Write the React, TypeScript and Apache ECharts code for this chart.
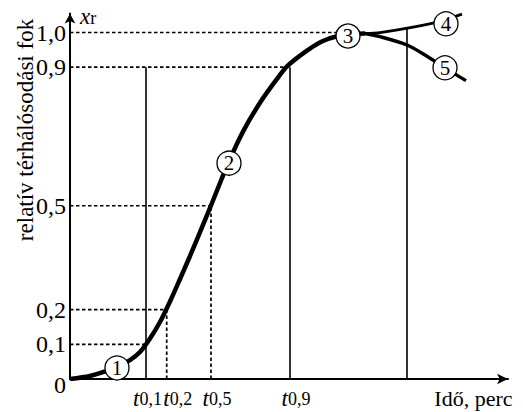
import React, { useEffect, useRef } from "react";
import * as echarts from "echarts";

// ---- data ----
const mainCurve: [number, number][] = [
  [0, 0], [2.0, 0.0087], [3.5, 0.0216], [4.7, 0.0346], [6.0, 0.0548], [7.0, 0.0779],
  [8.0, 0.1169], [9.0, 0.1645], [10.0, 0.2237], [11.0, 0.2886], [12.0, 0.355],
  [13.0, 0.4242], [14.2, 0.5079], [15.1, 0.5729], [16.0, 0.6349], [17.3, 0.714],
  [19.0, 0.7974], [20.7, 0.8661], [21.8, 0.9048], [23.7, 0.9478], [25.3, 0.9755],
  [26.8, 0.9899], [28.2, 0.9957], [29.5, 0.9971],
];
const branch4: [number, number][] = [[29.5, 0.9971], [31.0, 0.9995], [36.3, 1.027], [39.2, 1.053]];
const branch5: [number, number][] = [[29.5, 0.9971], [31.0, 0.988], [33.7, 0.964], [35.5, 0.935], [37.5, 0.898], [39.6, 0.861]];

const circleLabels = ["1", "2", "3", "4", "5"];
const circlePoints: [number, number][] = [[4.7, 0.032], [15.9, 0.623], [27.8, 0.99], [37.6, 1.025], [37.5, 0.898]];

const yTickValues = [0, 0.1, 0.2, 0.5, 0.9, 1.0];
const yTickLabels = ["0", "0,1", "0,2", "0,5", "0,9", "1,0"];

const tValues = [7.6, 9.67, 14.1, 22.0];
const tSubLabels = ["0,1", "0,2", "0,5", "0,9"];

// horizontal guides: level and end x
const hLevels = [1.0, 0.9, 0.5, 0.2, 0.1];
const hEnds = [26.8, 22.0, 14.1, 9.67, 7.6];
// vertical guides: x, top y, solid?
const vXs = [7.6, 9.67, 14.1, 22.0, 33.7];
const vTops = [0.9, 0.2, 0.5, 0.9, 1.012];
const vSolid = [true, false, false, true, true];

const X_MAX = 43.8;
const Y_MAX = 1.055;

const FONT = "Liberation Serif";

export default function App() {
  const ref = useRef<HTMLDivElement>(null);
  useEffect(() => {
    if (!ref.current) return;
    const chart = echarts.init(ref.current, undefined, { renderer: "svg" });
    const dotted = [3.5, 2.5];
    const series: any[] = [];
    hLevels.forEach((lv, i) => {
      series.push({
        type: "line", symbol: "none", silent: true, z: 2,
        data: [[0, lv], [hEnds[i], lv]],
        lineStyle: { color: "#000", width: 1.7, type: dotted },
      });
    });
    vXs.forEach((x, i) => {
      series.push({
        type: "line", symbol: "none", silent: true, z: 2,
        data: [[x, 0], [x, vTops[i]]],
        lineStyle: { color: "#000", width: vSolid[i] ? 1.6 : 1.7, type: vSolid[i] ? "solid" : dotted },
      });
    });
    series.push({
      type: "line", symbol: "none", smooth: 0.3, z: 3, data: mainCurve,
      lineStyle: { color: "#000", width: 4.5 },
    });
    series.push({
      type: "line", symbol: "none", smooth: 0.3, z: 3, data: branch4,
      lineStyle: { color: "#000", width: 2.8 },
    });
    series.push({
      type: "line", symbol: "none", smooth: 0.3, z: 3, data: branch5,
      lineStyle: { color: "#000", width: 3.4 },
    });
    series.push({
      type: "scatter", z: 6, symbol: "circle", symbolSize: 24,
      data: circlePoints.map((p, i) => ({ value: p, name: circleLabels[i] })),
      itemStyle: { color: "#fff", borderColor: "#000", borderWidth: 1.3, opacity: 1 },
      label: {
        show: true, position: "inside", formatter: (p: any) => p.name,
        color: "#000", fontSize: 21, fontFamily: FONT,
      },
    });

    const tLabel = (v: number) => {
      const i = tValues.findIndex((t) => Math.abs(t - v) < 1e-6);
      const sp = i === 0 ? "sp0" : i === 1 ? "sp1" : "sp";
      return `{${sp}|}{t|t}{s|${i >= 0 ? tSubLabels[i] : ""}}`;
    };
    const tRich = {
      sp: { width: 12 },
      sp0: { width: 3 },
      sp1: { width: 22 },
      t: { fontSize: 23, fontStyle: "italic", fontFamily: FONT, color: "#000" },
      s: { fontSize: 18, fontFamily: FONT, color: "#000" },
    };
    // even-indexed t labels on the main axis, odd-indexed on an overlaid twin axis
    const tMain = tValues.filter((_, i) => i % 2 === 0);
    const tTwin = tValues.filter((_, i) => i % 2 === 1);

    chart.setOption({
      animation: false,
      backgroundColor: "#fff",
      grid: { left: 70, right: 523 - 70 - 438, top: 379 - Y_MAX * 346.5, bottom: 33 },
      xAxis: [
        {
          type: "value", min: 0, max: X_MAX, position: "bottom",
          name: "Idő, perc", nameLocation: "end", nameGap: 4.5,
          nameTextStyle: { color: "#000", fontSize: 22, fontFamily: FONT, align: "right", verticalAlign: "top", padding: [8, 0, 0, 0] },
          axisLine: { show: true, lineStyle: { color: "#000", width: 2 }, symbol: ["none", "arrow"], symbolSize: [8, 11] },
          axisTick: { show: false },
          splitLine: { show: false },
          axisLabel: { customValues: tMain, margin: 8, formatter: tLabel, rich: tRich },
        },
        {
          type: "value", min: 0, max: X_MAX, position: "bottom", offset: 0,
          axisLine: { show: false },
          axisTick: { show: false },
          splitLine: { show: false },
          axisLabel: { customValues: tTwin, margin: 8, formatter: tLabel, rich: tRich },
        },
      ],
      yAxis: {
        type: "value", min: 0, max: Y_MAX,
        name: "{i|x}{r|r}", nameLocation: "end", nameGap: -3,
        nameTextStyle: {
          align: "left", verticalAlign: "middle", padding: [0, 0, 0, 10],
          rich: {
            i: { fontSize: 23, fontStyle: "italic", fontFamily: FONT, color: "#000" },
            r: { fontSize: 18, fontFamily: FONT, color: "#000", padding: [4, 0, 0, 0] },
          },
        },
        axisLine: { show: true, lineStyle: { color: "#000", width: 2 }, symbol: ["none", "arrow"], symbolSize: [8, 10] },
        axisTick: { show: false },
        splitLine: { show: false },
        axisLabel: {
          customValues: yTickValues,
          margin: 4,
          color: "#000", fontSize: 24, fontFamily: FONT,
          formatter: (v: number) => {
            const i = yTickValues.findIndex((t) => Math.abs(t - v) < 1e-6);
            const s = i >= 0 ? yTickLabels[i] : "";
            return v === 0 ? `{z|${s}}` : s;
          },
          rich: { z: { fontSize: 24, fontFamily: FONT, color: "#000", padding: [12, 0, 0, 0] } },
        },
      },
      graphic: [
        {
          type: "text", x: 25, y: 130, rotation: Math.PI / 2,
          style: {
            text: "relatív térhálósodási fok", fill: "#000",
            font: "23px 'Liberation Serif'",
            align: "center", verticalAlign: "middle",
          },
        },
      ],
      series,
    });
    return () => chart.dispose();
  }, []);
  return <div ref={ref} style={{ position: "fixed", left: 0, top: 0, width: 523, height: 412, background: "#fff" }} />;
}
